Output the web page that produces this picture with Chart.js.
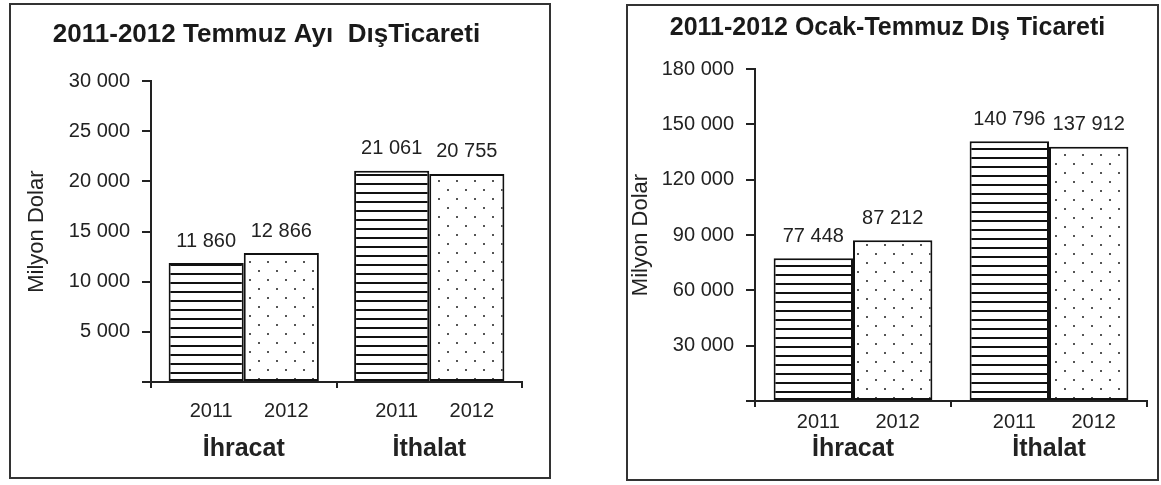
<!DOCTYPE html>
<html>
<head>
<meta charset="utf-8">
<title>2011-2012 Dış Ticaret</title>
<script src="https://cdn.jsdelivr.net/npm/chart.js"></script>
<style>
  body { margin: 0; background: #fff; }
  .panel { position: absolute; box-sizing: border-box; border: 2px solid #333; background: #fff; }
  #p1 { left: 9px; top: 3px; width: 542px; height: 476px; }
  #p2 { left: 626px; top: 4px; width: 533px; height: 477px; }
  canvas { display: block; }
</style>
</head>
<body>
<div class="panel" id="p1"><canvas id="julyChart" width="538" height="472"></canvas></div>
<div class="panel" id="p2"><canvas id="ytdChart" width="529" height="473"></canvas></div>
<script>
// values in million USD
const groups = ['İhracat', 'İthalat'];
const years = ['2011', '2012'];
const july2011 = [11860, 21061];
const july2012 = [12866, 20755];
const janJul2011 = [77448, 140796];
const janJul2012 = [87212, 137912];
const julyTicks = [0, 5000, 10000, 15000, 20000, 25000, 30000];
const janJulTicks = [0, 30000, 60000, 90000, 120000, 150000, 180000];

const FONT = '"Liberation Sans", Arial, sans-serif';
Chart.defaults.font.family = FONT;
Chart.defaults.color = '#222';

const fmt = (n) => String(n).replace(/\B(?=(\d{3})+(?!\d))/g, ' ');

function stripes() {
    const c = document.createElement('canvas');
    c.width = 8; c.height = 9;
    const g = c.getContext('2d');
    g.fillStyle = '#fff'; g.fillRect(0, 0, 8, 9);
    g.fillStyle = '#111'; g.fillRect(0, 7, 8, 2);
    return g.createPattern(c, 'repeat');
}

function dots() {
    const c = document.createElement('canvas');
    c.width = 18; c.height = 18;
    const g = c.getContext('2d');
    g.fillStyle = '#fff'; g.fillRect(0, 0, 18, 18);
    g.fillStyle = '#555';
    g.fillRect(4, 4, 2, 2);
    g.fillRect(13, 13, 2, 2);
    return g.createPattern(c, 'repeat');
}

// value above each bar, year under each bar
const barLabels = {
    id: 'barLabels',
    afterDatasetsDraw(chart, args, o) {
        const ctx = chart.ctx;
        ctx.save();
        ctx.fillStyle = '#222';
        ctx.textAlign = 'center';
        ctx.textBaseline = 'middle';
        chart.data.datasets.forEach((ds, di) => {
            chart.getDatasetMeta(di).data.forEach((bar, i) => {
                ctx.font = '20px ' + FONT;
                ctx.fillText(fmt(ds.data[i]), bar.x, bar.y - o.valueGap);
                ctx.fillText(ds.label, bar.x + 5, chart.chartArea.bottom + o.yearGap);
            });
        });
        ctx.restore();
    }
};

function makeChart(id, title, s2011, s2012, ticks, L) {
    return new Chart(document.getElementById(id), {
        type: 'bar',
        data: {
            labels: groups,
            datasets: [
                { label: years[0], data: s2011, backgroundColor: stripes() },
                { label: years[1], data: s2012, backgroundColor: dots() }
            ].map(d => Object.assign(d, {
                borderColor: '#111', borderWidth: 2, borderSkipped: false,
                barPercentage: 1, categoryPercentage: 0.81
            }))
        },
        options: {
            responsive: false,
            animation: false,
            layout: { padding: { right: L.padRight, left: 0, top: 0, bottom: 0 } },
            plugins: {
                legend: { display: false },
                tooltip: { enabled: false },
                title: {
                    display: true, text: title, color: '#1a1a1a',
                    font: { size: L.titleSize, weight: 'bold' },
                    padding: { top: L.titleTop, bottom: L.titleBottom }
                },
                barLabels: { valueGap: 22, yearGap: L.yearGap }
            },
            scales: {
                x: {
                    offset: true,
                    ticks: { color: '#222', font: { size: 25, weight: 'bold' }, padding: L.catPad },
                    grid: { drawOnChartArea: false, drawTicks: true, tickLength: 6, color: '#222', lineWidth: 2, offset: true },
                    border: { display: true, color: '#222', width: 2 },
                    afterFit: (s) => { s.height = L.xHeight; }
                },
                y: {
                    min: ticks[0],
                    max: ticks[ticks.length - 1],
                    ticks: {
                        stepSize: ticks[1] - ticks[0], padding: 12, color: '#222',
                        font: { size: 20 },
                        callback: (v) => (v === 0 ? '' : fmt(v))
                    },
                    grid: { drawOnChartArea: false, drawTicks: true, tickLength: 9, color: '#222', lineWidth: 2 },
                    border: { display: true, color: '#222', width: 2 },
                    title: {
                        display: true, text: 'Milyon Dolar', color: '#222',
                        font: { size: 22 }, padding: { top: L.yTitlePad, bottom: 0 }
                    },
                    afterFit: (s) => { s.width = L.yWidth; }
                }
            }
        },
        plugins: [barLabels]
    });
}

makeChart('julyChart', '2011-2012 Temmuz Ayı  DışTicareti', july2011, july2012, julyTicks,
    { yWidth: 140, xHeight: 95, padRight: 27, titleSize: 26, titleTop: 14, titleBottom: 31, yTitlePad: 13, catPad: 46, yearGap: 29 });

makeChart('ytdChart', '2011-2012 Ocak-Temmuz Dış Ticareti', janJul2011, janJul2012, janJulTicks,
    { yWidth: 127, xHeight: 78, padRight: 10, titleSize: 25, titleTop: 7, titleBottom: 26, yTitlePad: 0, catPad: 27, yearGap: 21 });
</script>
</body>
</html>
